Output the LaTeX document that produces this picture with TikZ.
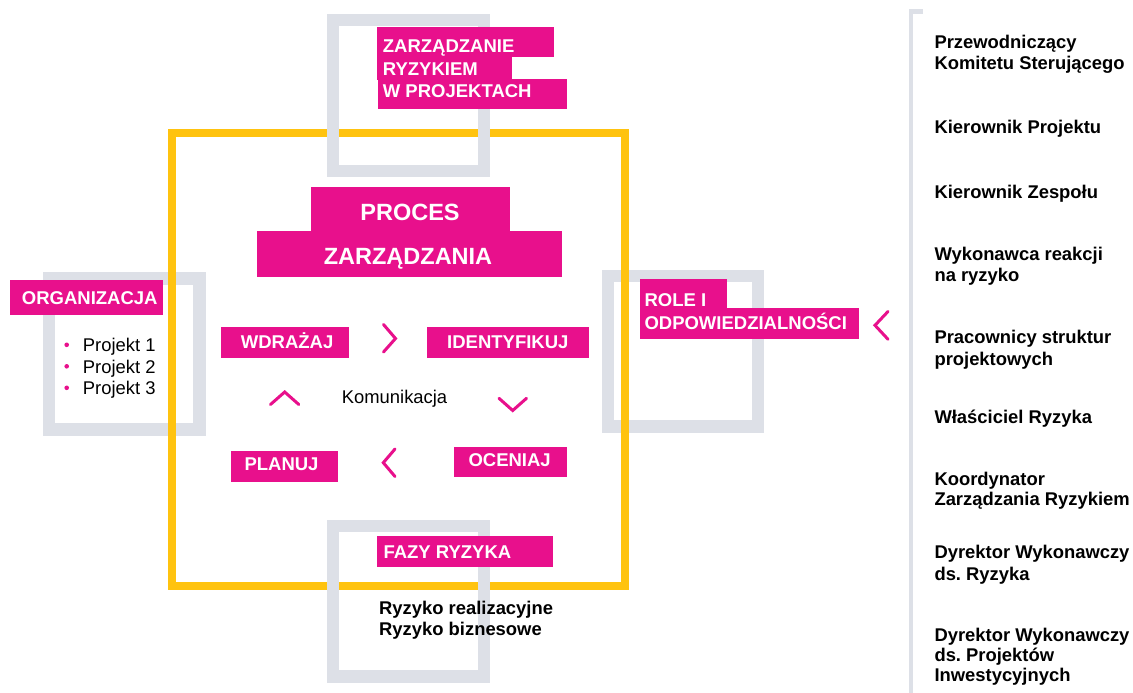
\documentclass[tikz,border=0pt]{standalone}
\usepackage{fontspec}
\setmainfont{Liberation Sans}
\frenchspacing
\definecolor{mag}{RGB}{232,16,140}
\definecolor{grayc}{RGB}{221,224,231}
\definecolor{yel}{RGB}{255,195,15}
\begin{document}
\begin{tikzpicture}[x=1pt,y=-1pt,
  gframe/.style={draw=grayc,line width=12.3pt},
  yframe/.style={draw=yel,line width=8pt},
  magbox/.style={fill=mag,draw=none},
  wlab/.style={text=white,font=\fontsize{18.5}{22}\selectfont\bfseries,inner sep=0pt,anchor=base west},
  biglab/.style={text=white,font=\fontsize{23.5}{28}\selectfont\bfseries,inner sep=0pt,anchor=base},
  blab/.style={text=black,font=\fontsize{18.4}{22}\selectfont\bfseries,inner sep=0pt,anchor=base west},
  rlab/.style={text=black,font=\fontsize{18.4}{22}\selectfont,inner sep=0pt,anchor=base west},
  chev/.style={draw=mag,line width=3pt,line cap=round,line join=miter},
]
\useasboundingbox (0,0) rectangle (1133,693);

% gray frames under yellow
\draw[gframe] (49,278.5) rectangle (199.5,429.5);
\draw[gframe] (608,276) rectangle (758,426.5);
% yellow frame
\draw[yframe] (172,132.5) rectangle (625,586);
% gray frames over yellow
\draw[gframe] (333,20) rectangle (484,171);
\draw[gframe] (333,526) rectangle (484,676.5);
% right bracket
\draw[draw=grayc,line width=4.5pt] (923,11.5) -- (910.8,11.5) -- (910.8,693);

% top label
\path[magbox] (377,26.7) rectangle (554,57.3);
\path[magbox] (377,57) rectangle (512,80);
\path[magbox] (378,79.5) rectangle (566.7,109.3);
\node[wlab] (zr1) at (382.7,52.7) {ZARZĄDZANIE};
\node[wlab] (zr2) at (382.7,75) {RYZYKIEM};
\node[wlab] (zr3) at (382.7,97.3) {W PROJEKTACH};

% PROCES ZARZADZANIA
\path[magbox] (311,186.7) rectangle (510,231);
\path[magbox] (256.7,230.7) rectangle (562,276.7);
\node[biglab] (proc1) at (410,220.7) {PROCES};
\node[biglab] (proc2) at (408,264) {ZARZĄDZANIA};

% ORGANIZACJA
\path[magbox] (10,280) rectangle (163.3,315);
\node[wlab] (org) at (21.7,304.3) {ORGANIZACJA};
\foreach \yy/\t [count=\i] in {351.5/Projekt 1,373/Projekt 2,394.5/Projekt 3}{
  \fill[mag] (66.7,\yy-6.7) circle (2.3);
  \node[rlab] (proj\i) at (82.7,\yy) {\t};
}

% cycle
\path[magbox] (221,327.3) rectangle (349,357.7);
\node[wlab] (wdr) at (240.7,348) {WDRAŻAJ};
\path[magbox] (427,327.3) rectangle (589,357.7);
\node[wlab] (ide) at (447,348) {IDENTYFIKUJ};
\path[magbox] (231,451) rectangle (337.7,481.7);
\node[wlab] (pla) at (244.3,470.7) {PLANUJ};
\path[magbox] (454,446.7) rectangle (566.7,477.3);
\node[wlab] (oce) at (468.3,466.7) {OCENIAJ};
\node[rlab] (kom) at (341.7,403.3) {Komunikacja};

\coordinate (c1a) at (383.5,324.5); \coordinate (c1b) at (395.5,338.5); \coordinate (c1c) at (383.5,352);
\draw[chev] (c1a) -- (c1b) -- (c1c);
\coordinate (c2a) at (270.5,404.5); \coordinate (c2b) at (284.7,392); \coordinate (c2c) at (298.8,404.5);
\draw[chev] (c2a) -- (c2b) -- (c2c);
\coordinate (c3a) at (499,398.3); \coordinate (c3b) at (512.7,410.5); \coordinate (c3c) at (526.5,398.3);
\draw[chev] (c3a) -- (c3b) -- (c3c);
\coordinate (c4a) at (395,449); \coordinate (c4b) at (383.3,462.7); \coordinate (c4c) at (395,476.5);
\draw[chev] (c4a) -- (c4b) -- (c4c);
\coordinate (c5a) at (888,311.5); \coordinate (c5b) at (875,325.3); \coordinate (c5c) at (888,339.3);
\draw[chev] (c5a) -- (c5b) -- (c5c);

% ROLE
\path[magbox] (640,279) rectangle (726.7,308.6);
\path[magbox] (640,308.3) rectangle (859.3,339);
\node[wlab] (role1) at (644.3,306.7) {ROLE I};
\node[wlab] (role2) at (644.3,329.3) {ODPOWIEDZIALNOŚCI};

% FAZY
\path[magbox] (377.3,536) rectangle (552.7,566.7);
\node[wlab] (fazy) at (383.3,558.3) {FAZY RYZYKA};
\node[blab] (rz1) at (379,614.5) {Ryzyko realizacyjne};
\node[blab] (rz2) at (379,635.5) {Ryzyko biznesowe};

% right list
\foreach \yy/\t [count=\i] in {49/Przewodniczący,70/Komitetu Sterującego,133/Kierownik Projektu,198/Kierownik Zespołu,260/Wykonawca reakcji,281/na ryzyko,343.3/Pracownicy struktur,365/projektowych,423.3/Właściciel Ryzyka,485/Koordynator,505.5/Zarządzania Ryzykiem,558.3/Dyrektor Wykonawczy,580/ds. Ryzyka,641.3/Dyrektor Wykonawczy,661.5/ds. Projektów,681.5/Inwestycyjnych}{
  \node[blab] (r\i) at (934.3,\yy) {\t};
}
\end{tikzpicture}
\end{document}
